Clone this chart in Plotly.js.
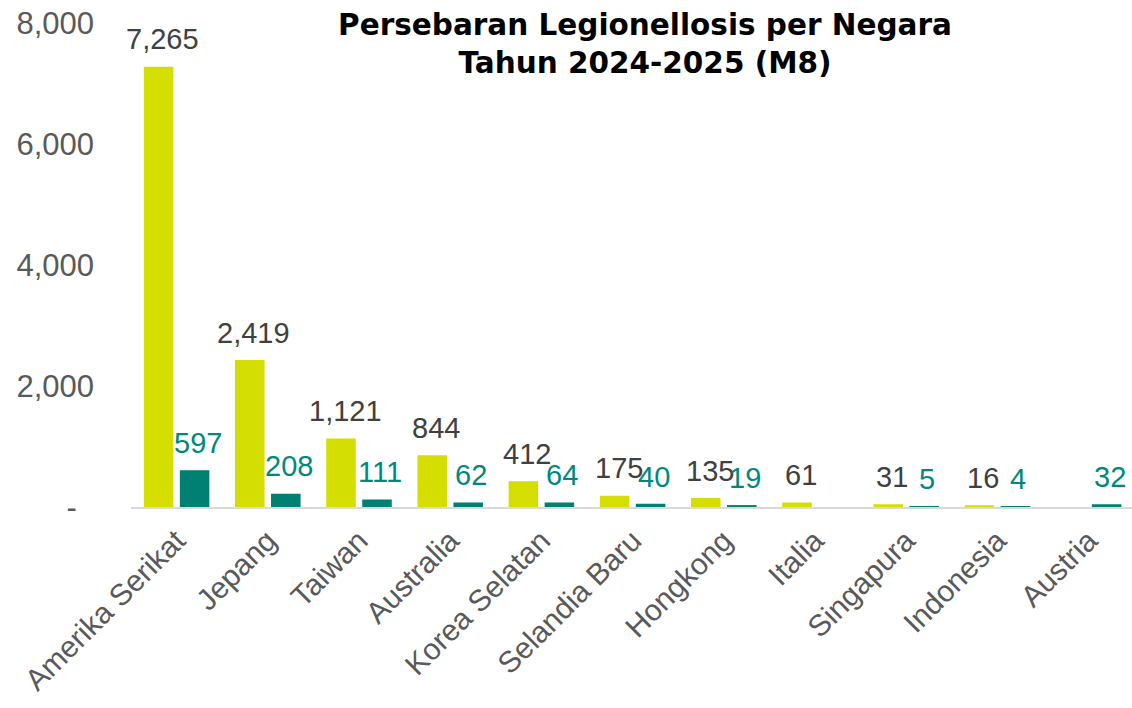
<!DOCTYPE html>
<html>
<head>
<meta charset="utf-8">
<script src="https://cdn.plot.ly/plotly-3.0.1.min.js"></script>
<style>html,body{margin:0;padding:0;background:#fff;}#chart{width:1132px;height:708px;}</style>
</head>
<body>
<div id="chart"></div>
<script>
const categories = ["Amerika Serikat", "Jepang", "Taiwan", "Australia", "Korea Selatan", "Selandia Baru", "Hongkong", "Italia", "Singapura", "Indonesia", "Austria"];
const cases2024 = [7265, 2419, 1121, 844, 412, 175, 135, 61, 31, 16, null];
const cases2025 = [597, 208, 111, 62, 64, 40, 19, null, 5, 4, 32];
const seriesNames = ["2024", "2025"];
const yTickVals = [0, 2000, 4000, 6000, 8000];
const yTickText = ["-\u00a0\u00a0", "2,000", "4,000", "6,000", "8,000"];
const titleText = "Persebaran Legionellosis per Negara<br>Tahun 2024-2025 (M8)";

const colYellow = "#d4de00";
const colTeal = "#007f73";
const labelDark = "#404040";
const labelTeal = "#00897a";
const labelFont = "Liberation Sans, Arial, sans-serif";

const traces = [
  {type: "bar", name: seriesNames[0], x: categories, y: cases2024, marker: {color: colYellow, line: {color: colYellow, width: 1.5}}, hoverinfo: "skip"},
  {type: "bar", name: seriesNames[1], x: categories, y: cases2025, marker: {color: colTeal, line: {color: colTeal, width: 1.5}}, hoverinfo: "skip"}
];

const fmt = v => v.toLocaleString("en-US");
const annotations = [];
function addLabels(vals, shift, color) {
  vals.forEach((v, i) => {
    if (v === null || v === undefined) return;
    annotations.push({
      x: categories[i], y: v, xref: "x", yref: "y",
      text: fmt(v), showarrow: false, xanchor: "center", yanchor: "bottom",
      xshift: shift, yshift: 10,
      font: {family: labelFont, size: 29, color: color}
    });
  });
}
addLabels(cases2024, -14, labelDark);
addLabels(cases2025, 21, labelTeal);

const layout = {
  width: 1132, height: 708,
  margin: {l: 131, r: 0, t: 23, b: 201, pad: 0, autoexpand: false},
  paper_bgcolor: "#ffffff", plot_bgcolor: "#ffffff",
  showlegend: false,
  barmode: "group", bargap: 0.21, bargroupgap: 0.222,
  title: {
    text: titleText,
    font: {family: "DejaVu Sans, sans-serif", size: 29.5, color: "#000000", weight: "bold"},
    x: 645 / 1132, xref: "container", xanchor: "center",
    y: 1 - 35 / 708, yref: "container", yanchor: "top"
  },
  xaxis: {
    type: "category", automargin: false, autorange: false,
    range: [-0.5, 10.476],
    showline: true, linecolor: "#d9d9d9", linewidth: 2,
    showgrid: false, zeroline: false, ticks: "",
    tickangle: -45,
    tickfont: {family: labelFont, size: 30, color: "#595959"},
    ticklabelstandoff: 2
  },
  yaxis: {
    range: [0, 8000], automargin: false, autorange: false,
    showline: false, showgrid: false, zeroline: false, ticks: "",
    tickvals: yTickVals, ticktext: yTickText,
    tickfont: {family: labelFont, size: 31, color: "#595959"},
    ticklabelstandoff: 36
  },
  annotations: annotations
};

Plotly.newPlot("chart", traces, layout, {displayModeBar: false, staticPlot: true});
</script>
</body>
</html>
